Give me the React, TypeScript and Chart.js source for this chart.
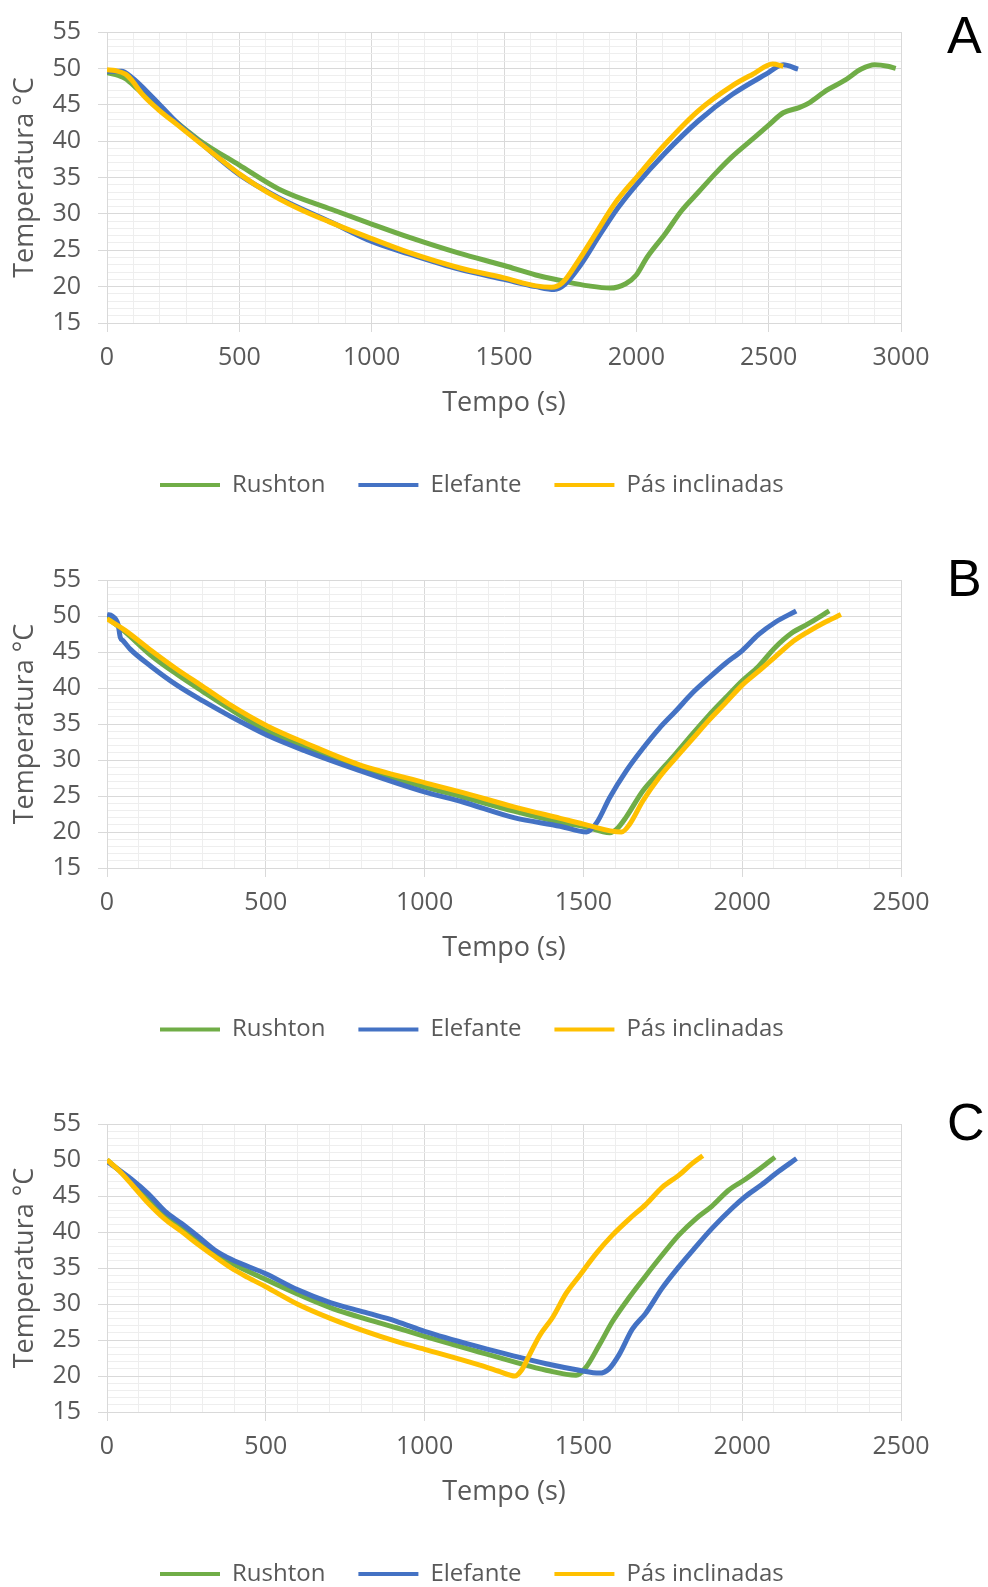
import React, { useEffect, useRef } from 'react';
import { Chart, registerables } from 'chart.js';

Chart.register(...registerables);

// ---------- text ----------
const SERIES_NAMES = ['Rushton', 'Elefante', 'Pás inclinadas'];
const SERIES_COLORS = ['#70AD47', '#4472C4', '#FFC000'];
const X_TITLE = 'Tempo (s)';
const Y_TITLE = 'Temperatura °C';
const PANEL_LABELS = ['A', 'B', 'C'];
const X_MAX = [3000, 2500, 2500];
const Y_MIN = 15;
const Y_MAX = 55;
const X_MAJOR = 500;
const X_MINOR = 100;
const Y_MAJOR = 5;
const Y_MINOR = 1;

// ---------- panel A ----------
const A_RUSHTON_T = [0, 45, 70, 120, 220, 346, 500, 650, 850, 1000, 1140, 1330, 1500, 1620, 1720, 1820, 1900, 1960, 2000, 2040, 2110, 2170, 2235, 2300, 2360, 2430, 2500, 2555, 2615, 2655, 2720, 2785, 2850, 2900, 2950, 2980];
const A_RUSHTON_C = [49.4, 49.0, 48.6, 47.0, 43.9, 40.2, 36.7, 33.4, 30.6, 28.6, 26.8, 24.6, 22.9, 21.6, 20.8, 20.1, 19.8, 20.4, 21.6, 24.0, 27.3, 30.4, 33.0, 35.6, 37.8, 40.0, 42.2, 43.9, 44.6, 45.3, 47.0, 48.3, 49.9, 50.5, 50.3, 50.0];
const A_ELEFANTE_T = [0, 55, 95, 170, 271, 346, 500, 650, 850, 1000, 1140, 1330, 1500, 1620, 1690, 1730, 1790, 1860, 1930, 2000, 2107, 2235, 2362, 2490, 2555, 2611];
const A_ELEFANTE_C = [49.6, 49.6, 48.7, 46.1, 42.3, 40.0, 35.4, 32.2, 28.8, 26.2, 24.5, 22.4, 21.0, 20.0, 19.6, 20.3, 23.0, 27.0, 30.8, 34.0, 38.3, 42.8, 46.4, 49.2, 50.5, 49.9];
const A_PAS_T = [0, 30, 70, 95, 132, 195, 271, 346, 422, 500, 600, 725, 840, 1000, 1140, 1330, 1500, 1620, 1680, 1720, 1780, 1850, 1920, 2000, 2107, 2235, 2362, 2440, 2515, 2555];
const A_PAS_C = [49.8, 49.7, 49.2, 48.3, 46.5, 44.3, 42.1, 39.9, 37.7, 35.5, 33.1, 30.7, 28.9, 26.6, 24.7, 22.6, 21.2, 20.1, 19.9, 20.5, 23.5, 27.5, 31.5, 35.0, 39.5, 44.2, 47.6, 49.2, 50.6, 50.3];

// ---------- panel B ----------
const B_RUSHTON_T = [0, 57, 139, 220, 302, 383, 506, 628, 791, 1005, 1118, 1281, 1444, 1500, 1583, 1609, 1635, 1687, 1739, 1791, 1843, 1895, 1947, 2000, 2051, 2103, 2155, 2207, 2274];
const B_RUSHTON_C = [49.8, 47.8, 44.5, 41.9, 39.5, 37.2, 34.0, 31.8, 29.0, 26.2, 24.9, 22.9, 21.2, 20.8, 19.9, 20.6, 22.1, 25.7, 28.3, 30.9, 33.6, 36.2, 38.6, 41.0, 43.0, 45.6, 47.6, 48.9, 50.7];
const B_ELEFANTE_T = [0, 16, 35, 42, 50, 73, 139, 220, 302, 383, 506, 628, 791, 1005, 1118, 1281, 1427, 1510, 1542, 1583, 1635, 1687, 1739, 1791, 1843, 1895, 1947, 2000, 2051, 2103, 2170];
const B_ELEFANTE_C = [50.2, 50.0, 48.8, 47.0, 46.6, 45.4, 43.0, 40.4, 38.2, 36.2, 33.4, 31.2, 28.6, 25.5, 24.2, 22.0, 20.8, 20.0, 21.3, 24.8, 28.5, 31.6, 34.4, 36.8, 39.3, 41.4, 43.4, 45.2, 47.4, 49.1, 50.7];
const B_PAS_T = [0, 57, 139, 220, 302, 383, 506, 628, 791, 1005, 1118, 1281, 1427, 1500, 1620, 1646, 1687, 1739, 1791, 1843, 1895, 1947, 2000, 2051, 2103, 2155, 2207, 2259, 2311];
const B_PAS_C = [49.6, 48.0, 45.2, 42.6, 40.2, 37.8, 34.7, 32.3, 29.4, 26.8, 25.5, 23.5, 21.9, 21.1, 20.0, 21.1, 24.3, 27.6, 30.3, 32.9, 35.5, 37.9, 40.4, 42.3, 44.3, 46.3, 47.8, 49.1, 50.2];

// ---------- panel C ----------
const C_RUSHTON_T = [0, 78, 130, 182, 234, 339, 500, 703, 911, 1000, 1174, 1279, 1383, 1477, 1508, 1550, 1592, 1644, 1696, 1748, 1801, 1853, 1905, 1957, 2009, 2062, 2103];
const C_RUSHTON_C = [50.0, 47.0, 44.8, 42.5, 40.6, 37.0, 33.4, 29.5, 26.7, 25.5, 23.3, 22.0, 20.8, 20.1, 21.2, 24.3, 27.6, 30.9, 33.9, 36.8, 39.6, 41.8, 43.6, 45.8, 47.3, 49.0, 50.4];
const C_ELEFANTE_T = [0, 78, 130, 182, 234, 286, 339, 391, 500, 599, 703, 807, 911, 1000, 1174, 1279, 1383, 1487, 1550, 1581, 1613, 1654, 1696, 1748, 1801, 1853, 1905, 1968, 2009, 2062, 2114, 2171];
const C_ELEFANTE_C = [49.8, 47.3, 45.3, 42.9, 41.2, 39.4, 37.5, 36.2, 34.2, 32.0, 30.2, 28.9, 27.6, 26.2, 24.0, 22.8, 21.7, 20.8, 20.4, 21.0, 23.0, 26.5, 28.7, 32.2, 35.2, 37.9, 40.5, 43.3, 44.9, 46.6, 48.4, 50.2];
const C_PAS_T = [0, 36, 78, 130, 182, 234, 286, 339, 391, 443, 500, 599, 703, 807, 911, 1000, 1174, 1237, 1284, 1305, 1331, 1362, 1404, 1446, 1487, 1540, 1592, 1644, 1696, 1748, 1801, 1842, 1876];
const C_PAS_C = [50.0, 48.6, 46.6, 44.0, 41.8, 40.1, 38.3, 36.6, 35.0, 33.7, 32.4, 30.0, 28.0, 26.3, 24.8, 23.7, 21.5, 20.6, 20.0, 20.8, 23.0, 25.6, 28.2, 31.5, 33.9, 37.0, 39.6, 41.8, 43.8, 46.2, 47.9, 49.5, 50.6];

const PANEL_SERIES = [
  [[A_RUSHTON_T, A_RUSHTON_C], [A_ELEFANTE_T, A_ELEFANTE_C], [A_PAS_T, A_PAS_C]],
  [[B_RUSHTON_T, B_RUSHTON_C], [B_ELEFANTE_T, B_ELEFANTE_C], [B_PAS_T, B_PAS_C]],
  [[C_RUSHTON_T, C_RUSHTON_C], [C_ELEFANTE_T, C_ELEFANTE_C], [C_PAS_T, C_PAS_C]],
];

// ---------- layout (page pixels) ----------
const PAGE_W = 988;
const PAGE_H = 1587;
const CANVAS_H = 530;
const PLOT_LEFT = 107;
const PLOT_RIGHT = 901;
const PANEL_LAYOUT = [
  { top: 0, plotTop: 16, plotBottom: 323, legendY: 485, letterTop: 9 },
  { top: 548, plotTop: 16, plotBottom: 320, legendY: 481.5, letterTop: 552 },
  { top: 1092, plotTop: 16, plotBottom: 320, legendY: 482, letterTop: 1096 },
];
const LEGEND_START_X = 160;
const LEGEND_PAD = 33;
const LEGEND_FONT = 24;
const LEGEND_RESERVED_H = 20;
const TICK_FONT = 25;
const TITLE_FONT = 27;
const TEXT_COLOR = '#595959';
const MAJOR_GRID = '#d9d9d9';
const MINOR_GRID = '#eeeeee';

const FONT_FAMILY = "'Open Sans', 'Noto Sans', sans-serif";

function Panel({ index }: { index: number }) {
  const ref = useRef<HTMLCanvasElement | null>(null);
  useEffect(() => {
    const lay = PANEL_LAYOUT[index];
    const series = PANEL_SERIES[index];
    const titleLine = TITLE_FONT * 1.2;
    const xAxisBottom = CANVAS_H - LEGEND_RESERVED_H;

    const legendPlacer = {
      id: 'legendPlacer',
      afterLayout(chart: any) {
        const lg = chart.legend;
        if (!lg) return;
        lg.left = LEGEND_START_X - LEGEND_PAD;
        lg.right = lg.left + 860;
        lg.top = lay.legendY - LEGEND_PAD - LEGEND_FONT / 2;
        lg.bottom = lg.top + 90;
      },
    };

    const datasets = series.map((s, i) => ({
      label: SERIES_NAMES[i],
      data: s[0].map((t: number, k: number) => ({ x: t, y: s[1][k] })),
      borderColor: SERIES_COLORS[i],
      backgroundColor: SERIES_COLORS[i],
      borderWidth: 5,
      pointRadius: 0,
      fill: false,
      cubicInterpolationMode: 'monotone' as const,
      order: 3 - i,
    }));

    const chart = new Chart(ref.current as HTMLCanvasElement, {
      type: 'line',
      data: { datasets },
      plugins: [legendPlacer],
      options: {
        animation: false,
        responsive: false,
        devicePixelRatio: 1,
        events: [],
        layout: {
          padding: { top: lay.plotTop, right: PAGE_W - PLOT_RIGHT, bottom: 0, left: 0 },
        },
        font: { family: FONT_FAMILY },
        scales: {
          x: {
            type: 'linear',
            min: 0,
            max: X_MAX[index],
            afterFit: (s: any) => {
              s.height = xAxisBottom - lay.plotBottom;
            },
            ticks: {
              stepSize: X_MINOR,
              autoSkip: false,
              maxRotation: 0,
              minRotation: 0,
              padding: 11,
              color: TEXT_COLOR,
              font: { family: FONT_FAMILY, size: TICK_FONT },
              callback: (v: any) => (Math.round(v) % X_MAJOR === 0 ? String(Math.round(v)) : ''),
            },
            grid: {
              color: (c: any) => (c.tick && Math.round(c.tick.value) % X_MAJOR === 0 ? MAJOR_GRID : MINOR_GRID),
              tickColor: (c: any) => (c.tick && Math.round(c.tick.value) % X_MAJOR === 0 ? MAJOR_GRID : 'rgba(0,0,0,0)'),
              tickLength: 9,
              lineWidth: 1,
            },
            border: { color: MAJOR_GRID, width: 1 },
            title: {
              display: true,
              text: X_TITLE,
              color: TEXT_COLOR,
              font: { family: FONT_FAMILY, size: TITLE_FONT },
              padding: { top: 0, bottom: xAxisBottom - (lay.plotBottom + 80) - titleLine / 2 },
            },
          },
          y: {
            type: 'linear',
            min: Y_MIN,
            max: Y_MAX,
            afterFit: (s: any) => {
              s.width = PLOT_LEFT;
            },
            ticks: {
              stepSize: Y_MINOR,
              autoSkip: false,
              padding: 17,
              color: TEXT_COLOR,
              font: { family: FONT_FAMILY, size: TICK_FONT },
              callback: (v: any) => (Math.round(v) % Y_MAJOR === 0 ? String(Math.round(v)) : ''),
            },
            grid: {
              color: (c: any) => (c.tick && Math.round(c.tick.value) % Y_MAJOR === 0 ? MAJOR_GRID : MINOR_GRID),
              tickColor: (c: any) => (c.tick && Math.round(c.tick.value) % Y_MAJOR === 0 ? MAJOR_GRID : 'rgba(0,0,0,0)'),
              tickLength: 9,
              lineWidth: 1,
            },
            border: { color: MAJOR_GRID, width: 1 },
            title: {
              display: true,
              text: Y_TITLE,
              color: TEXT_COLOR,
              font: { family: FONT_FAMILY, size: TITLE_FONT },
              padding: { top: 9, bottom: 0 },
            },
          },
        },
        plugins: {
          tooltip: { enabled: false },
          legend: {
            display: true,
            position: 'bottom',
            align: 'start',
            maxHeight: LEGEND_RESERVED_H,
            labels: {
              boxWidth: 60,
              boxHeight: 4,
              padding: LEGEND_PAD,
              color: TEXT_COLOR,
              font: { family: FONT_FAMILY, size: LEGEND_FONT },
              generateLabels: (ch: any) =>
                ch.data.datasets.map((ds: any, i: number) => ({
                  text: ds.label,
                  fillStyle: ds.borderColor,
                  strokeStyle: ds.borderColor,
                  lineWidth: 0,
                  hidden: false,
                  datasetIndex: i,
                  fontColor: TEXT_COLOR,
                })),
            },
          },
        },
      } as any,
    });
    return () => chart.destroy();
  }, [index]);

  const lay = PANEL_LAYOUT[index];
  return (
    <>
      <canvas
        ref={ref}
        width={PAGE_W}
        height={CANVAS_H}
        style={{ position: 'absolute', left: 0, top: lay.top, display: 'block', width: PAGE_W, height: CANVAS_H }}
      />
      <div
        style={{
          position: 'absolute',
          left: 947,
          top: lay.letterTop,
          fontFamily: "'Liberation Sans', Arial, sans-serif",
          fontSize: 52,
          lineHeight: '52px',
          color: '#000',
        }}
      >
        {PANEL_LABELS[index]}
      </div>
    </>
  );
}

export default function App() {
  return (
    <div
      style={{
        position: 'absolute',
        left: 0,
        top: 0,
        width: PAGE_W,
        height: PAGE_H,
        overflow: 'hidden',
        background: '#fff',
      }}
    >
      {PANEL_LABELS.map((_, i) => (
        <Panel key={i} index={i} />
      ))}
    </div>
  );
}
